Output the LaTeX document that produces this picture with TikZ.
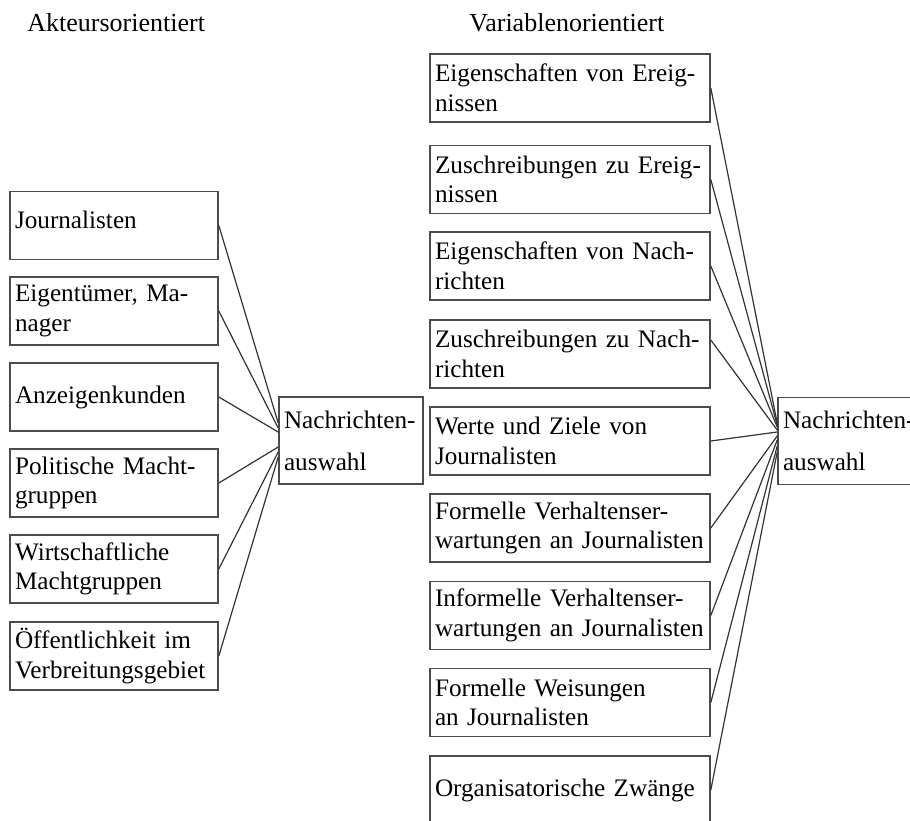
\documentclass[tikz,border=0pt]{standalone}
\usepackage{fontspec}
\setmainfont{Liberation Serif}
\tikzset{
    BX1/.style ={rectangle, draw=black!70, line width=0.8pt, minimum height=34pt, text width=99pt,
                 inner xsep=2.5pt, inner ysep=0pt, align=left, font=\fontsize{12.6}{14.8}\selectfont},
    BX2/.style ={BX1, text width=135pt},
    NA/.style ={BX1, text width=67pt, minimum height=43.5pt, font=\fontsize{12.6}{21}\selectfont},
    TT/.style ={anchor=base west, inner sep=0pt, font=\fontsize{13}{15}\selectfont},
    LN/.style ={draw=black!80, line width=0.6pt}}
\begin{document}
\begin{tikzpicture}[x=0.5pt,y=-0.5pt]
        \clip (0,0) rectangle (910,820);
        % titles
        \node[TT] (ta) at (27,31) {Akteursorientiert};
        \node[TT] (tv) at (469,31) {Variablenorientiert};
        % target boxes
        \node[NA] (nl) at (351,440.5) {Nachrichten-\\auswahl};
        \node[NA] (nr) at (850,441) {Nachrichten-\\auswahl};
        % actors
        \node[BX1,text depth=6pt] (jour) at (114,225.5) {Journalisten};
        \node[BX1] (eign) at (114,311) {Eigentümer, Ma-\\nager};
        \node[BX1] (anz) at (114,397) {Anzeigenkunden};
        \node[BX1] (pol) at (114,483) {Politische Macht-\\gruppen};
        \node[BX1] (wirt) at (114,569) {Wirtschaftliche\\Machtgruppen};
        \node[BX1] (oeff) at (114,656) {Öffentlichkeit im\\Verbreitungsgebiet};
        \draw[LN] (jour.east) -- ([yshift=8.75pt]nl.west);
        \draw[LN] (eign.east) -- ([yshift=6.25pt]nl.west);
        \draw[LN] (anz.east) -- ([yshift=4.25pt]nl.west);
        \draw[LN] (pol.east) -- ([yshift=-3.25pt]nl.west);
        \draw[LN] (wirt.east) -- ([yshift=-5.75pt]nl.west);
        \draw[LN] (oeff.east) -- ([yshift=-8.25pt]nl.west);
        % variables
        \node[BX2] (eer) at (570,88) {Eigenschaften von Ereig-\\nissen};
        \node[BX2] (zer) at (570,179.5) {Zuschreibungen zu Ereig-\\nissen};
        \node[BX2] (ena) at (570,266) {Eigenschaften von Nach-\\richten};
        \node[BX2] (zna) at (570,354) {Zuschreibungen zu Nach-\\richten};
        \node[BX2] (wer) at (570,441) {Werte und Ziele von\\Journalisten};
        \node[BX2] (fve) at (570,528) {Formelle Verhaltenser-\\wartungen an Journalisten};
        \node[BX2] (ive) at (570,615.5) {Informelle Verhaltenser-\\wartungen an Journalisten};
        \node[BX2] (fwe) at (570,702.5) {Formelle Weisungen\\an Journalisten};
        \node[BX2] (org) at (570,790) {Organisatorische Zwänge};
        \draw[LN] (eer.east) -- ([yshift=9pt]nr.west);
        \draw[LN] (zer.east) -- ([yshift=8pt]nr.west);
        \draw[LN] (ena.east) -- ([yshift=7pt]nr.west);
        \draw[LN] ([yshift=7pt]zna.east) -- ([yshift=5.5pt]nr.west);
        \draw[LN] (wer.east) -- ([yshift=4.5pt]nr.west);
        \draw[LN] (fve.east) -- ([yshift=2.5pt]nr.west);
        \draw[LN] (ive.east) -- ([yshift=0.5pt]nr.west);
        \draw[LN] (fwe.east) -- ([yshift=-2.5pt]nr.west);
        \draw[LN] (org.east) -- ([yshift=-5.5pt]nr.west);
    \end{tikzpicture}
\end{document}
